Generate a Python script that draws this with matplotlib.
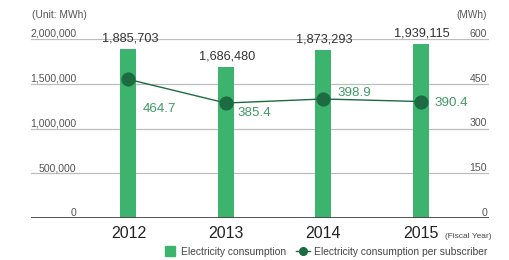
import numpy as np
import matplotlib.pyplot as plt
from matplotlib.lines import Line2D

plt.rcParams['font.family'] = ['Liberation Sans', 'DejaVu Sans']

years = ["2012", "2013", "2014", "2015"]
consumption = [1885703, 1686480, 1873293, 1939115]
per_subscriber = [464.7, 385.4, 398.9, 390.4]
left_ticks = [0, 500000, 1000000, 1500000, 2000000]
right_ticks = [0, 150, 300, 450, 600]

bar_green = "#3cb46e"
line_green = "#1d6b41"
label_green = "#3f9a66"
grid_col = "#bdbdbd"

fig = plt.figure(figsize=(5.1, 2.6), dpi=100)
ax = fig.add_axes([31/510, 1-218/260, 458/510, 179/260])
x = np.arange(len(years))

for t in left_ticks[1:]:
    ax.axhline(t, color=grid_col, lw=0.9, zorder=0)
ax.axhline(0, color="#444444", lw=1.3, zorder=3)

ax.bar(x, consumption, width=0.165, color=bar_green, zorder=2)
for xi, v in zip(x, consumption):
    ax.annotate(f"{v:,}", (xi, v), xytext=(1, 3.5), textcoords="offset points",
                ha="center", va="bottom", fontsize=9.2, color="#333333")

ax.set_xlim(-1.0, 3.7)
ax.set_ylim(0, 2000000)
for s in ax.spines.values():
    s.set_visible(False)
ax.set_yticks([])
ax.set_xticks(x)
ax.set_xticklabels(years, fontsize=11.5, color="#222222")
ax.tick_params(axis="x", length=0, pad=6)

for t in left_ticks:
    ax.text(0.099, t, f"{t:,}", transform=ax.get_yaxis_transform(),
            ha="right", va="bottom", fontsize=7.6, color="#555555")

ax2 = ax.twinx()
ax2.set_ylim(0, 600)
for s in ax2.spines.values():
    s.set_visible(False)
ax2.set_yticks([])
for t in right_ticks:
    ax2.text(0.9956, t, f"{t}", transform=ax2.get_yaxis_transform(),
             ha="right", va="bottom", fontsize=7.6, color="#555555")

ax2.plot(x, per_subscriber, color=line_green, lw=1.0, marker="o", ms=9.2,
         zorder=4)
offsets = [(10, -21), (8, -7), (10, 4.5), (10, -1)]
for xi, v, off in zip(x, per_subscriber, offsets):
    ax2.annotate(f"{v}", (xi, v), xytext=off, textcoords="offset points",
                 ha="left", va="center", fontsize=9.6, color=label_green)

fig.text(32/510, 1-15/260, "(Unit: MWh)", fontsize=7.4, color="#555555",
         ha="left", va="center")
fig.text(487/510, 1-15/260, "(MWh)", fontsize=7.2, color="#555555",
         ha="right", va="center")
fig.text(445/510, 1-237/260, "(Fiscal Year)", fontsize=6.0, color="#444444",
         ha="left", va="center")

handles = [Line2D([], [], color=bar_green, marker="s", ms=6.5, ls=""),
           Line2D([], [], color=line_green, marker="o", ms=5.5, lw=1.0)]
fig.legend(handles, ["Electricity consumption", "Electricity consumption per subscriber"],
           loc="center", bbox_to_anchor=(325/510, 1-252/260), ncol=2,
           frameon=False, fontsize=7.4, handlelength=1.4,
           handletextpad=0.35, columnspacing=1.0, labelcolor="#444444")

fig.savefig("out.png", dpi=100)
